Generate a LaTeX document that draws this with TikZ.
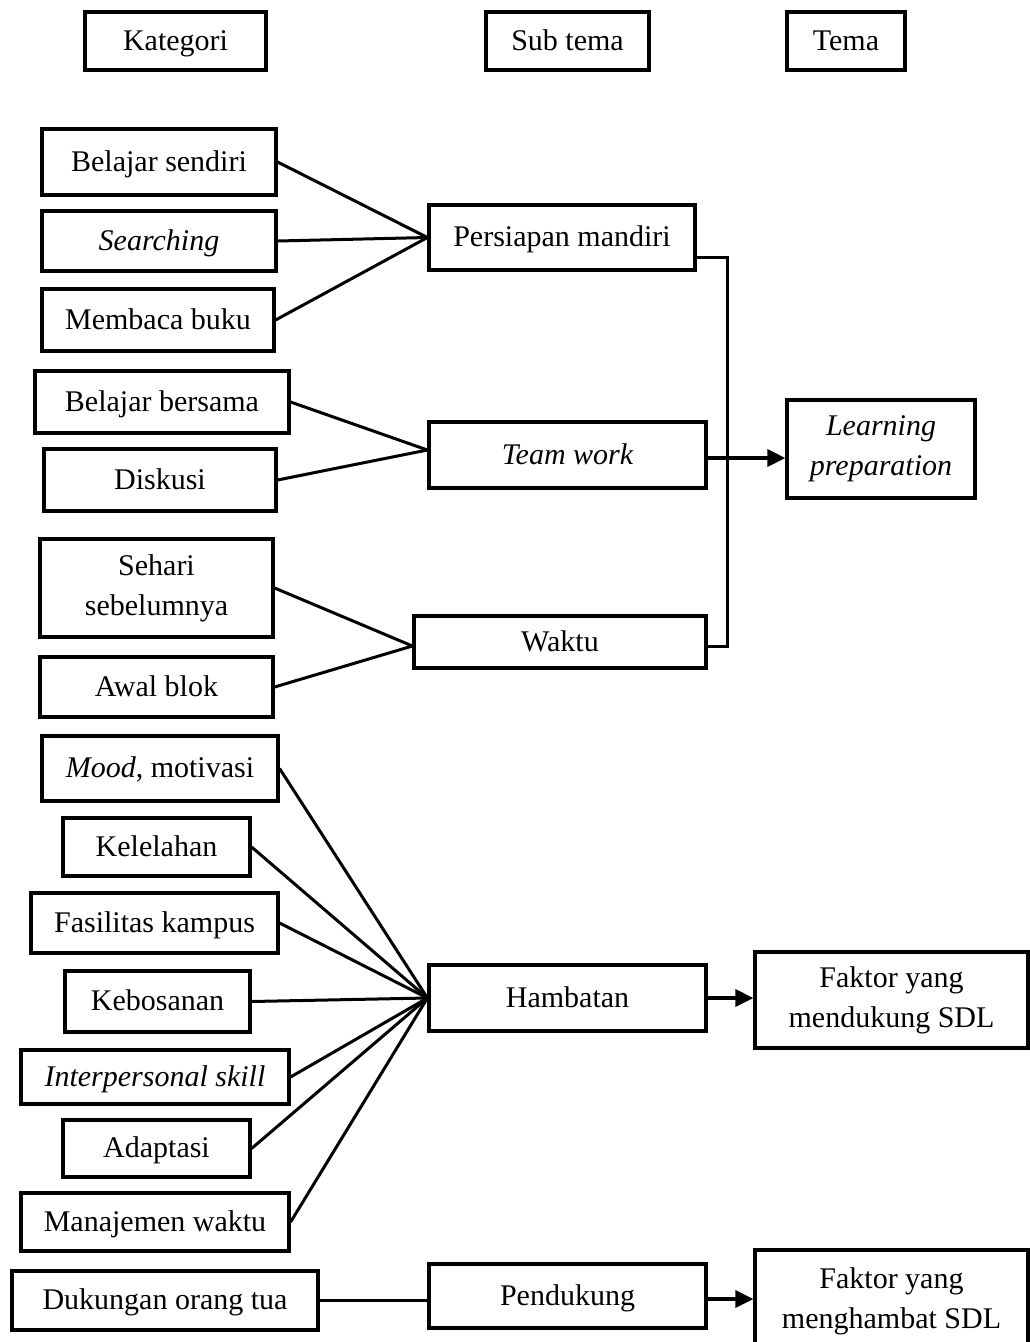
\documentclass[tikz,border=0pt]{standalone}
\usepackage{fontspec}
\setmainfont{Liberation Serif}
\usetikzlibrary{arrows.meta}
\begin{document}
\begin{tikzpicture}[x=1pt,y=-1pt,
  box/.style={draw, line width=3.2pt, inner sep=0pt, align=center,
    font=\fontsize{30}{40}\selectfont},
  one/.style={box, text height=21pt, text depth=3pt},
  link/.style={line width=3pt},
  arr/.style={line width=3.2pt, -{Triangle[length=18pt,width=17pt]}}]
\useasboundingbox (0,0) rectangle (1030,1342);
% headers
\node[one, minimum width=181, minimum height=58] (kat) at (175.5,41) {Kategori};
\node[one, minimum width=163, minimum height=58] (sub) at (567.5,41) {Sub tema};
\node[one, minimum width=118, minimum height=58] (tema) at (846,41) {Tema};
% kategori
\node[one, minimum width=234, minimum height=66] (bs) at (159,162) {Belajar sendiri};
\node[one, minimum width=234, minimum height=60] (sr) at (159,241) {\itshape Searching};
\node[one, minimum width=232, minimum height=62] (mb) at (158,320) {Membaca buku};
\node[one, minimum width=254, minimum height=62] (bb) at (162,402) {Belajar bersama};
\node[one, minimum width=232, minimum height=62] (dk) at (160,480) {Diskusi};
\node[box, minimum width=233, minimum height=98] (sh) at (156.5,588) {Sehari\\sebelumnya};
\node[one, minimum width=233, minimum height=60] (ab) at (156.5,687) {Awal blok};
\node[one, minimum width=236, minimum height=65] (md) at (160,768.5) {\textit{Mood}, motivasi};
\node[one, minimum width=187, minimum height=58] (kl) at (156.5,847) {Kelelahan};
\node[one, minimum width=247, minimum height=60] (fk) at (154.5,923) {Fasilitas kampus};
\node[one, minimum width=185, minimum height=61] (kb) at (157.5,1001.5) {Kebosanan};
\node[one, minimum width=268, minimum height=54] (is) at (155,1077) {\itshape Interpersonal skill};
\node[one, minimum width=187, minimum height=57] (ad) at (156.5,1148.5) {Adaptasi};
\node[one, minimum width=268, minimum height=58] (mw) at (155,1222) {Manajemen waktu};
\node[one, minimum width=306, minimum height=59] (do) at (165,1300.5) {Dukungan orang tua};
% sub tema
\node[one, minimum width=266, minimum height=65] (pm) at (562,237.5) {Persiapan mandiri};
\node[one, minimum width=277, minimum height=66] (tw) at (567.5,455) {\itshape Team work};
\node[one, minimum width=292, minimum height=52] (wk) at (560,642) {Waktu};
\node[one, minimum width=277, minimum height=66] (hb) at (567.5,998) {Hambatan};
\node[one, minimum width=277, minimum height=64] (pd) at (567.5,1296) {Pendukung};
% tema
\node[box, minimum width=188, minimum height=98] (lp) at (881,449) {\itshape Learning\\\itshape preparation};
\node[box, minimum width=273, minimum height=96] (fm) at (891.5,1000) {Faktor yang\\mendukung SDL};
\node[box, minimum width=273, minimum height=102] (fh) at (891.5,1301) {Faktor yang\\menghambat SDL};
% connectors
\draw[link] (bs.east) -- (pm.west);
\draw[link] (sr.east) -- (pm.west);
\draw[link] (mb.east) -- (pm.west);
\coordinate (twin) at ([yshift=5pt]tw.west);
\draw[link] (bb.east) -- (twin);
\draw[link] (dk.east) -- (twin);
\coordinate (wkin) at ([yshift=-4pt]wk.west);
\draw[link] (sh.east) -- (wkin);
\draw[link] (ab.east) -- (wkin);
\coordinate (bx) at (727,0);
\draw[link] ([yshift=-19.5pt]pm.east) -| (bx |- wkin) -- (wkin -| wk.east);
\draw[arr] ([yshift=-3pt]tw.east) -- ([yshift=-3pt]tw.east -| lp.west);
\foreach \n in {md,kl,fk,kb,is,ad,mw} \draw[link] (\n.east) -- (hb.west);
\draw[arr] (hb.east) -- (hb.east -| fm.west);
\draw[link] (do.east) -- (do.east -| pd.west);
\draw[arr] ([yshift=-3pt]pd.east) -- ([yshift=-3pt]pd.east -| fh.west);
\end{tikzpicture}
\end{document}
